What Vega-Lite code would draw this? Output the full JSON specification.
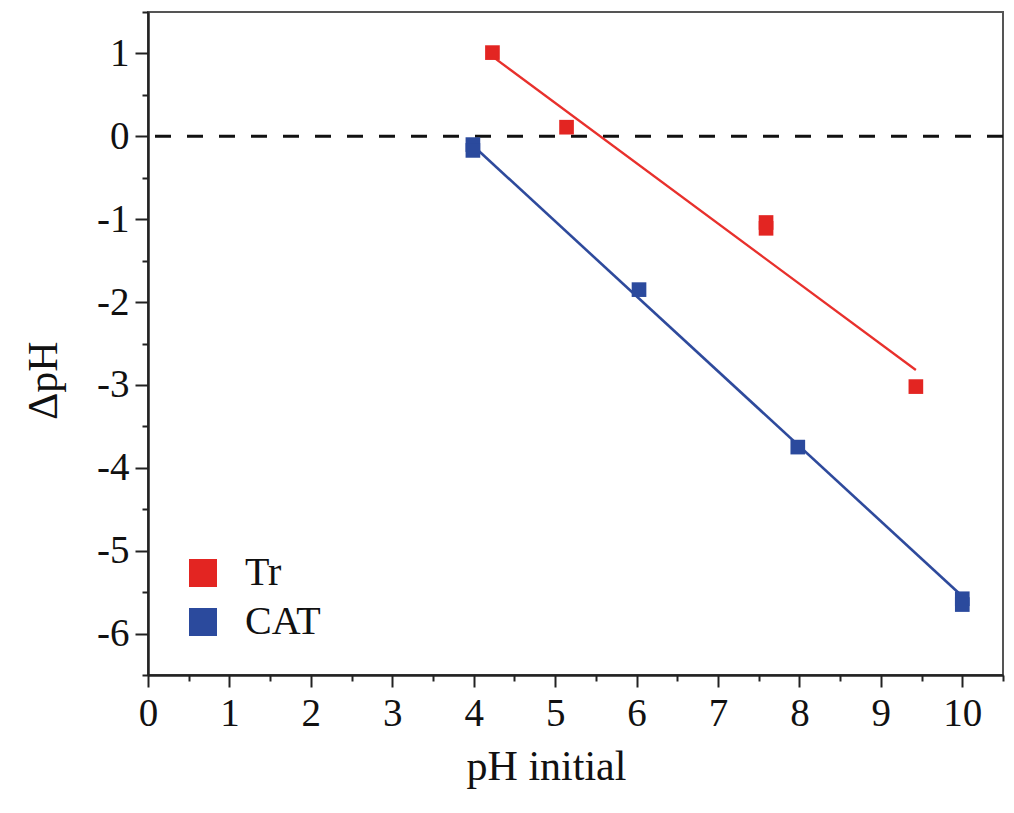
{
  "$schema": "https://vega.github.io/schema/vega-lite/v6.json",
  "width": 855,
  "height": 663,
  "autosize": "none",
  "padding": {"left": 148, "top": 12, "right": 11, "bottom": 138},
  "background": "white",
  "config": {
    "view": {"stroke": "#555", "strokeWidth": 2},
    "font": "Liberation Serif"
  },
  "datasets": {
    "points": [
      {"ph": 4.23, "dph": 1.01, "series": "Tr"},
      {"ph": 5.14, "dph": 0.11, "series": "Tr"},
      {"ph": 7.59, "dph": -1.04, "series": "Tr"},
      {"ph": 7.59, "dph": -1.11, "series": "Tr"},
      {"ph": 9.43, "dph": -3.02, "series": "Tr"},
      {"ph": 3.99, "dph": -0.1, "series": "CAT"},
      {"ph": 3.99, "dph": -0.17, "series": "CAT"},
      {"ph": 6.03, "dph": -1.85, "series": "CAT"},
      {"ph": 7.98, "dph": -3.75, "series": "CAT"},
      {"ph": 10.0, "dph": -5.58, "series": "CAT"},
      {"ph": 10.0, "dph": -5.65, "series": "CAT"}
    ],
    "fits": [
      {"ph": 4.22, "dph": 0.97, "series": "Tr"},
      {"ph": 9.43, "dph": -2.82, "series": "Tr"},
      {"ph": 4.0, "dph": -0.12, "series": "CAT"},
      {"ph": 10.0, "dph": -5.55, "series": "CAT"}
    ],
    "zero": [{"dph": 0}]
  },
  "encoding": {
    "x": {
      "field": "ph",
      "type": "quantitative",
      "scale": {"domain": [0, 10.5], "nice": false, "zero": false},
      "axis": {
        "title": "pH initial",
        "values": [0, 0.5, 1, 1.5, 2, 2.5, 3, 3.5, 4, 4.5, 5, 5.5, 6, 6.5, 7, 7.5, 8, 8.5, 9, 9.5, 10, 10.5],
        "labelExpr": "datum.value % 1 === 0 ? datum.value + '' : ''",
        "grid": false,
        "domainColor": "#222",
        "domainWidth": 2.5,
        "tickColor": "#222",
        "tickWidth": 2,
        "tickSize": {"condition": {"test": "datum.value % 1 === 0", "value": 12}, "value": 6},
        "labelFont": "Liberation Serif",
        "labelFontSize": 39,
        "labelColor": "#111",
        "labelPadding": 7,
        "labelFlush": false,
        "labelOverlap": false,
        "titleFont": "Liberation Serif",
        "titleFontSize": 42,
        "titleFontWeight": "normal",
        "titleColor": "#111",
        "titleAlign": "center",
        "titleBaseline": "alphabetic",
        "titleX": 398,
        "titleY": 104
      }
    },
    "y": {
      "field": "dph",
      "type": "quantitative",
      "scale": {"domain": [-6.5, 1.5], "nice": false, "zero": false},
      "axis": {
        "title": "ΔpH",
        "values": [-6.5, -6, -5.5, -5, -4.5, -4, -3.5, -3, -2.5, -2, -1.5, -1, -0.5, 0, 0.5, 1, 1.5],
        "labelExpr": "datum.value % 1 === 0 ? datum.value + '' : ''",
        "grid": false,
        "domainColor": "#222",
        "domainWidth": 2.5,
        "tickColor": "#222",
        "tickWidth": 2,
        "tickSize": {"condition": {"test": "datum.value % 1 === 0", "value": 13}, "value": 6},
        "labelFont": "Liberation Serif",
        "labelFontSize": 39,
        "labelColor": "#111",
        "labelPadding": 6,
        "labelFlush": false,
        "labelOverlap": false,
        "titleFont": "Liberation Serif",
        "titleFontSize": 42,
        "titleFontWeight": "normal",
        "titleColor": "#111",
        "titleAlign": "center",
        "titleBaseline": "alphabetic",
        "titleAngle": -90,
        "titleX": -92,
        "titleY": 368
      }
    }
  },
  "layer": [
    {
      "data": {"name": "zero"},
      "mark": {"type": "rule", "color": "#111", "strokeWidth": 3, "strokeDash": [16, 16]},
      "encoding": {"x": null}
    },
    {
      "data": {"name": "fits"},
      "transform": [{"filter": "datum.series === 'Tr'"}],
      "mark": {"type": "line", "color": "#e8302c", "strokeWidth": 2.3}
    },
    {
      "data": {"name": "fits"},
      "transform": [{"filter": "datum.series === 'CAT'"}],
      "mark": {"type": "line", "color": "#2e4a9c", "strokeWidth": 2.6}
    },
    {
      "data": {"name": "points"},
      "mark": {"type": "point", "shape": "square", "filled": true, "opacity": 1, "size": 215},
      "encoding": {
        "color": {
          "field": "series",
          "type": "nominal",
          "scale": {"domain": ["Tr", "CAT"], "range": ["#e32522", "#2b4a9d"]},
          "legend": {
            "title": null,
            "orient": "none",
            "legendX": 35,
            "legendY": 541,
            "symbolType": "square",
            "symbolSize": 784,
            "symbolStrokeWidth": 0,
            "symbolOpacity": 1,
            "labelFont": "Liberation Serif",
            "labelFontSize": 40,
            "labelColor": "#111",
            "labelOffset": 22,
            "rowPadding": 9
          }
        }
      }
    }
  ]
}
